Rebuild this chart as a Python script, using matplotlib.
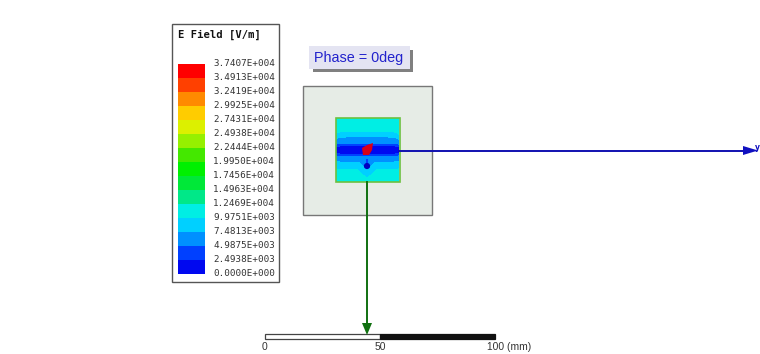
import matplotlib
matplotlib.use('Agg')
import matplotlib.pyplot as plt
from matplotlib.patches import Rectangle, Polygon
from matplotlib.colors import ListedColormap, BoundaryNorm
import numpy as np

# legend, top to bottom
level_labels = ['3.7407E+004', '3.4913E+004', '3.2419E+004', '2.9925E+004',
                '2.7431E+004', '2.4938E+004', '2.2444E+004', '1.9950E+004',
                '1.7456E+004', '1.4963E+004', '1.2469E+004', '9.9751E+003',
                '7.4813E+003', '4.9875E+003', '2.4938E+003', '0.0000E+000']
band_colors = ['#ff0000', '#ff4000', '#ff8a00', '#ffcc00', '#dcf000', '#96f000',
               '#44e800', '#00f000', '#00e838', '#00e888', '#00eee4', '#00d0ff',
               '#0090ff', '#0040ff', '#0008f0']
levels = [float(s) for s in level_labels[::-1]]

# E field on the patch (V/m)
field_x = [336, 340, 346, 356, 363, 367, 371, 378, 388, 394, 399]
field_y = [118, 131, 133, 136, 138, 143, 145, 147, 153, 155, 157, 161, 163, 168, 170, 182]
field = [
    [10500, 10500, 10500, 10500, 10500, 10500, 10500, 10500, 10500, 10500, 10500],
    [10500, 10300, 10200, 10200, 10200, 10200, 10200, 10200, 10200, 10300, 10500],
    [10200, 9300, 8800, 8700, 8700, 8700, 8700, 8700, 8800, 9300, 10200],
    [9600, 8700, 8500, 8400, 8300, 8300, 8300, 8400, 8500, 8700, 9600],
    [8000, 6800, 6400, 6200, 6100, 6000, 6100, 6200, 6400, 6800, 8000],
    [6500, 5800, 5600, 5500, 5400, 5300, 5400, 5500, 5600, 5800, 6500],
    [3600, 3000, 2800, 2700, 2600, 2600, 2600, 2700, 2800, 3000, 3600],
    [2300, 1700, 1300, 1100, 900, 800, 900, 1100, 1300, 1700, 2300],
    [2300, 1700, 1300, 1100, 900, 800, 900, 1100, 1300, 1700, 2300],
    [3600, 3000, 2800, 2700, 2600, 2600, 2600, 2700, 2800, 3000, 3600],
    [6500, 5800, 5600, 5400, 5200, 5000, 5200, 5400, 5600, 5800, 6500],
    [7200, 6400, 6200, 5800, 5300, 4600, 5300, 5800, 6200, 6400, 7200],
    [9000, 8400, 8200, 8000, 6800, 4200, 6800, 8000, 8200, 8400, 9000],
    [9600, 9000, 8800, 8600, 7800, 6000, 7800, 8600, 8800, 9000, 9600],
    [10400, 10200, 10200, 10100, 9600, 8600, 9600, 10100, 10200, 10200, 10400],
    [10500, 10500, 10500, 10500, 10500, 10500, 10500, 10500, 10500, 10500, 10500],
]

scale_ticks = ['0', '50', '100 (mm)']

fig = plt.figure(figsize=(7.6, 3.54), dpi=100)
ax = fig.add_axes([0, 0, 1, 1])
ax.set_xlim(0, 760)
ax.set_ylim(354, 0)
ax.axis('off')

# legend box
ax.add_patch(Rectangle((172, 24), 107, 258, fc='white', ec='#555555', lw=1.0))
ax.text(178, 34.5, 'E Field [V/m]', family='DejaVu Sans Mono', fontweight='bold',
        fontsize=7.6, color='#111111', va='center')
bar_top = 64
band_h = 14
for i, c in enumerate(band_colors):
    ax.add_patch(Rectangle((178, bar_top + i * band_h), 27, band_h, fc=c, ec='none'))
for i, s in enumerate(level_labels):
    ax.text(213, bar_top + i * band_h - 1, s, family='DejaVu Sans Mono', fontsize=6.7,
            color='#333333', va='center')

# phase label
ax.add_patch(Rectangle((313, 50), 100, 22, fc='#808080', ec='none'))
ax.add_patch(Rectangle((309, 46), 101, 23, fc='#e4e4f2', ec='none'))
ax.text(359, 58, 'Phase = 0deg', family='Liberation Sans', fontsize=10.4,
        color='#2222cc', ha='center', va='center')

# board
ax.add_patch(Rectangle((303, 86), 129, 129, fc='#e6ece6', ec='#777777', lw=1.0))

# patch field
cmap = ListedColormap(band_colors[::-1])
norm = BoundaryNorm(levels, cmap.N)
ax.contourf(field_x, field_y, np.array(field), levels=levels, cmap=cmap, norm=norm, zorder=2)
ax.add_patch(Rectangle((335.5, 118), 64, 64, fc='none', ec='#6cc040', lw=1.2, zorder=3))

# feed spot and via
ax.add_patch(Polygon([(362, 148), (367, 145), (373, 143), (372, 150), (369, 155),
                      (363, 155)], fc='#d80018', ec='none', zorder=4))
ax.scatter([367], [166], s=20, color='#0000c0', edgecolors='none', zorder=4)

# y axis (blue) and x axis (green)
ax.plot([399, 746], [150.5, 150.5], color='#1010b0', lw=1.4, zorder=3)
ax.add_patch(Polygon([(743, 146), (758, 150.5), (743, 155)], fc='#1010c0', ec='none', zorder=4))
ax.text(757, 147, 'y', fontsize=5.5, color='#1010c0', fontweight='bold', ha='center', va='center')
ax.plot([367, 367], [182, 326], color='#107010', lw=1.4, zorder=3)
ax.add_patch(Polygon([(362, 323), (372, 323), (367, 335)], fc='#107010', ec='none', zorder=6))

# scale bar
ax.add_patch(Rectangle((264.5, 333.5), 115.5, 5, fc='white', ec='#444444', lw=0.9, zorder=5))
ax.add_patch(Rectangle((380, 333.5), 115, 5, fc='#111111', ec='#111111', lw=0.9, zorder=5))
ax.text(264.5, 347.5, scale_ticks[0], family='Liberation Sans', fontsize=7.4,
        color='#333333', ha='center', va='center')
ax.text(380, 347.5, scale_ticks[1], family='Liberation Sans', fontsize=7.4,
        color='#333333', ha='center', va='center')
ax.text(487, 347.5, scale_ticks[2], family='Liberation Sans', fontsize=7.4,
        color='#333333', ha='left', va='center')

fig.savefig('out.png', dpi=100)
